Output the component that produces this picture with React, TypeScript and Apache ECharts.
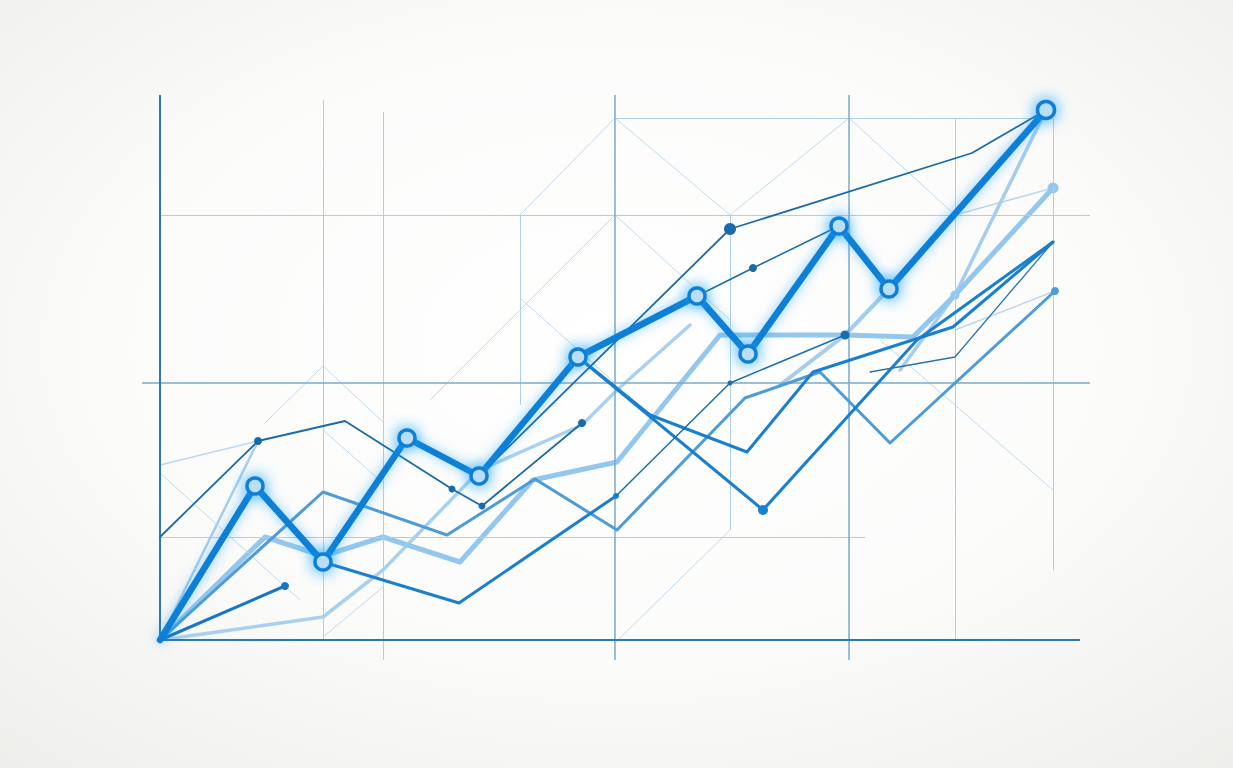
import React, { useEffect, useRef } from "react";
import * as echarts from "echarts";

// ---- data (x: time units, y: value units) ----
const mainLine = [[0, 0], [9.5, 30.8], [16.3, 15.6], [24.7, 40.4], [31.9, 32.8], [41.8, 56.6], [53.7, 68.8], [58.8, 57.2], [67.9, 82.8], [72.9, 70.2], [88.6, 106]];
const thinA = [[0, 20.6], [9.8, 39.8], [18.5, 43.8], [29.2, 30.2], [32.2, 26.8], [42.2, 43.4]];
const thinTop = [[31.9, 32.8], [57, 82.2], [81.2, 97.4], [88.6, 106]];
const thinShort = [[53.7, 68.8], [59.3, 74.4], [67.9, 82.8]];
const stub = [[0, 0], [12.5, 10.8]];
const darkMidA = [[16.3, 15.6], [29.9, 7.4], [45.6, 28.8]];
const thinMid = [[45.6, 28.8], [57, 51.4], [68.5, 61]];
const darkMidB = [[41.8, 56.6], [49, 45], [58.7, 37.6], [65.3, 53.6], [79.3, 62.6], [89.3, 79.6]];
const darkMidC = [[41.8, 56.6], [60.3, 26], [75.7, 60], [89.3, 79.6]];
const thinRight = [[71, 53.6], [79.5, 56.6], [89.3, 79.6]];
const midBlue = [[0, 0], [16.3, 29.6], [28.7, 21], [37.5, 32.2], [45.7, 22], [58.5, 48.4], [66, 53.6], [73, 39.4], [89.5, 69.8]];
const lightThick = [[0, 0], [10.5, 20.6], [16.3, 16.8], [22.3, 20.6], [30, 15.6], [37.3, 32], [45.7, 35.6], [56, 61], [68.5, 61], [75.3, 60.6], [79.5, 69], [89.3, 90.4]];
const lightA = [[0, 0], [16.3, 4.6], [22.3, 14], [32, 34], [42.2, 43], [45.7, 50], [53, 63]];
const lightSteep = [[74, 54], [79.5, 69], [88.6, 106]];
const lightShort = [[62, 51], [68.5, 61], [72.9, 70.2]];
const lightRise = [[0, 0], [9.8, 39.8]];
const faintA = [[0, 35], [9.8, 39.8]];
const faintB = [[79.5, 85], [89.3, 90.4]];
const faintC = [[79.5, 62], [89.5, 69.8]];

// grid segments [x1, y1, x2, y2]
const axisSegs = [[0, 0, 0, 109], [0, 0, 92, 0]];
const midSegs = [[45.5, -4, 45.5, 109], [68.9, -4, 68.9, 109], [-1.8, 51.4, 93, 51.4]];
const lightSegs = [
  [16.3, 0, 16.3, 108], [22.3, -4, 22.3, 105.6], [57, 22, 57, 85], [79.5, 0, 79.5, 104.4],
  [89.3, 14, 89.3, 104.4], [36, 47, 36, 85],
  [0, 85, 93, 85], [45.5, 104.4, 88.5, 104.4], [0, 20.6, 70.5, 20.6],
];
const diagSegs = [
  [36, 85, 45.5, 104.4], [45.5, 104.4, 57, 85], [57, 85, 68.9, 104.4], [68.9, 104.4, 79.5, 85],
  [45.5, 85, 27, 48], [36, 68.4, 45.5, 51.4], [45.5, 85, 57, 64], [72, 60, 89.3, 30],
  [57, 22, 45.6, -0.4], [16.3, 54.8, 10.5, 43.4], [16.3, 54.8, 22.3, 43.6],
  [0, 33.4, 14, 8], [16.3, 42, 22.3, 31.4], [16.3, 0.6, 22.3, 10.6],
];

function withDots(values: number[][], dots: number[]) {
  return values.map((v, i) => ({
    value: v,
    symbol: dots[i] ? "circle" : "none",
    symbolSize: dots[i] || 0,
  }));
}

function segs(list: number[][], color: string, width: number, opacity = 1) {
  return list.map((s) => [
    { coord: [s[0], s[1]], lineStyle: { color, width, type: "solid", opacity } },
    { coord: [s[2], s[3]] },
  ]);
}

function lineSeries(name: string, data: any[], color: string, width: number, z: number, extra: any = {}) {
  return {
    name,
    type: "line",
    data,
    z,
    silent: true,
    showSymbol: true,
    symbol: "circle",
    lineStyle: { color, width, cap: "round", join: "round", ...(extra.lineStyle || {}) },
    itemStyle: { color, ...(extra.itemStyle || {}) },
    emphasis: { disabled: true },
  };
}

export default function App() {
  const ref = useRef<HTMLDivElement>(null);
  useEffect(() => {
    if (!ref.current) return;
    const chart = echarts.init(ref.current, undefined, { renderer: "svg" });
    const bg = new echarts.graphic.RadialGradient(0.5, 0.45, 0.75, [
      { offset: 0, color: "#ffffff" },
      { offset: 0.55, color: "#fbfbfa" },
      { offset: 1, color: "#eeeeeb" },
    ]);
    chart.setOption({
      animation: false,
      graphic: {
        elements: [
          { type: "rect", z: -100, silent: true, shape: { x: 0, y: 0, width: 1233, height: 768 }, style: { fill: bg } },
        ],
      },
      grid: { left: 120, right: 113, top: 70, bottom: 98 },
      xAxis: { type: "value", min: -4, max: 96, show: false },
      yAxis: { type: "value", min: -6, max: 114, show: false },
      series: [
        {
          type: "line",
          data: [[0, 0], [0, 0]],
          symbol: "none",
          showSymbol: false,
          silent: true,
          z: 1,
          lineStyle: { opacity: 0 },
          markLine: {
            silent: true,
            symbol: ["none", "none"],
            label: { show: false },
            emphasis: { disabled: true },
            animation: false,
            data: [
              ...segs(diagSegs, "#bcd9ee", 1, 0.95),
              ...segs(lightSegs, "#a9cde8", 1, 0.95),
              ...segs(midSegs, "#76aad3", 1.5),
              ...segs(axisSegs, "#2b78b4", 2),
            ],
          },
        },
        lineSeries("faintA", withDots(faintA, [0, 0]), "#b9d8f0", 1.5, 3),
        lineSeries("faintB", withDots(faintB, [0, 0]), "#b9d8f0", 1.5, 3),
        lineSeries("faintC", withDots(faintC, [0, 0]), "#b9d8f0", 1.5, 3),
        lineSeries("lightRise", withDots(lightRise, [0, 0]), "#a6cfee", 2.5, 3),
        lineSeries("lightA", withDots(lightA, [0, 0, 0, 0, 0, 0, 0]), "#a9d1ef", 3.5, 3),
        lineSeries("lightSteep", withDots(lightSteep, [0, 0, 0]), "#a4cdee", 3.5, 3),
        lineSeries("lightShort", withDots(lightShort, [0, 0, 0]), "#a4cdee", 4, 3),
        lineSeries("lightThick", withDots(lightThick, [0, 0, 0, 0, 0, 0, 0, 0, 0, 0, 9, 11]), "#94c7ee", 5, 4),
        lineSeries("midBlue", withDots(midBlue, [0, 0, 0, 0, 0, 0, 0, 0, 8]), "#4d9cd8", 3, 5),
        lineSeries("darkMidA", withDots(darkMidA, [0, 0, 6]), "#1a7fcc", 3, 6),
        lineSeries("darkMidB", withDots(darkMidB, [0, 0, 0, 0, 0, 0]), "#1a7fcc", 3, 6),
        lineSeries("darkMidC", withDots(darkMidC, [0, 10, 0, 0]), "#1a7fcc", 3, 6),
        lineSeries("stub", withDots(stub, [0, 8]), "#1777c4", 3, 6),
        lineSeries("thinMid", withDots(thinMid, [0, 5, 9]), "#1a6eb0", 1.5, 7),
        lineSeries("thinRight", withDots(thinRight, [0, 0, 0]), "#2b73ad", 1.3, 7),
        lineSeries("thinA", withDots(thinA, [0, 8, 0, 7, 7, 8]), "#1b6aa8", 1.8, 7),
        lineSeries("thinTop", withDots(thinTop, [0, 12, 0, 0]), "#1b6aa8", 1.8, 7),
        lineSeries("thinShort", withDots(thinShort, [0, 8, 0]), "#1b6aa8", 1.5, 7),
        {
          name: "main",
          type: "line",
          data: withDots(mainLine, [0, 16, 16, 16, 16, 16, 16, 16, 16, 16, 17]),
          z: 10,
          silent: true,
          symbol: "circle",
          showSymbol: true,
          lineStyle: {
            color: "#0a7fd6",
            width: 6.5,
            cap: "round",
            join: "round",
            shadowBlur: 12,
            shadowColor: "rgba(20,150,255,0.5)",
          },
          itemStyle: {
            color: "#b8def8",
            borderColor: "#0a7fd6",
            borderWidth: 3.5,
            shadowBlur: 16,
            shadowColor: "rgba(20,160,255,0.95)",
          },
          emphasis: { disabled: true },
        },
      ],
    });
    return () => chart.dispose();
  }, []);
  return (
    <div
      ref={ref}
      style={{ position: "fixed", left: 0, top: 0, width: 1233, height: 768 }}
    />
  );
}
